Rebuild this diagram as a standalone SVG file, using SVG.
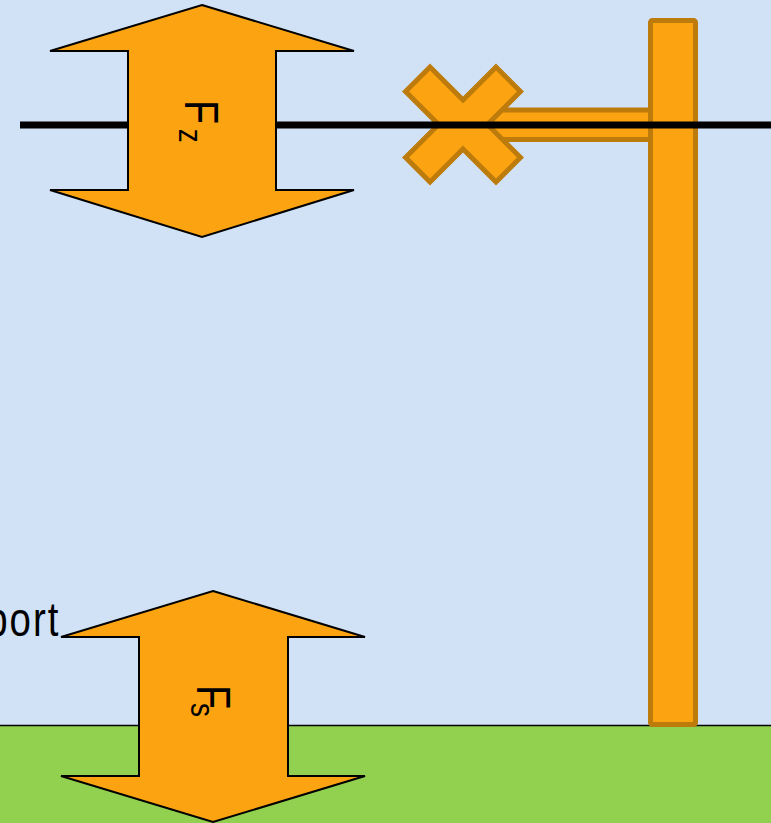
<svg xmlns="http://www.w3.org/2000/svg" width="771" height="823" viewBox="0 0 771 823">
  <style>
    .arrow { fill: #FCA312; stroke: #000000; stroke-width: 2; stroke-linejoin: miter; }
    .mast { fill: #FCA312; stroke: #BD7B0B; stroke-width: 5; stroke-linejoin: miter; }
    .lbl { font-family: "Liberation Sans", Arial, sans-serif; fill: #000000; }
  </style>
  <g id="sky"><rect x="0" y="0" width="771" height="823" fill="#D1E2F6"/></g>
  <g id="ground">
    <rect x="0" y="725" width="771" height="98" fill="#92D050"/>
    <line x1="0" y1="725.5" x2="771" y2="725.5" stroke="#000000" stroke-width="1.5"/>
  </g>
  <g id="crossarm"><rect class="mast" x="492" y="110" width="158.5" height="29.5"/></g>
  <g id="insulator"><polygon class="mast" points="463,100.04 496,67.04 520.46,91.5 487.46,124.5 520.46,157.5 496,181.96 463,148.96 430,181.96 405.54,157.5 438.54,124.5 405.54,91.5 430,67.04"/></g>
  <g id="pole"><rect class="mast" x="650.5" y="20.5" width="45" height="704" rx="2"/></g>
  <g id="connectors">
    <line id="wire" x1="20" y1="125" x2="771" y2="125" stroke="#000000" stroke-width="7"/>
  </g>
  <g id="force-z">
    <polygon class="arrow" points="202,5 354,51 276,51 276,190 354,190 202,237 50,190 128,190 128,51 50,51"/>
    <text class="lbl" transform="translate(185,100) rotate(90) scale(0.82,1)" font-size="48">F<tspan x="35" y="6" font-size="34">z</tspan></text>
  </g>
  <g id="force-s">
    <polygon class="arrow" points="213,591 365,637 288,637 288,776 365,776 213,822 61,776 139,776 139,637 61,637"/>
    <text class="lbl" transform="translate(197,685) rotate(90) scale(0.82,1)" font-size="48">F<tspan x="22" y="6" font-size="34">s</tspan></text>
  </g>
  <g id="support-label">
    <text class="lbl" transform="translate(-13.8,636) scale(0.8,1)" font-size="48" letter-spacing="2.5">port</text>
  </g>
</svg>
